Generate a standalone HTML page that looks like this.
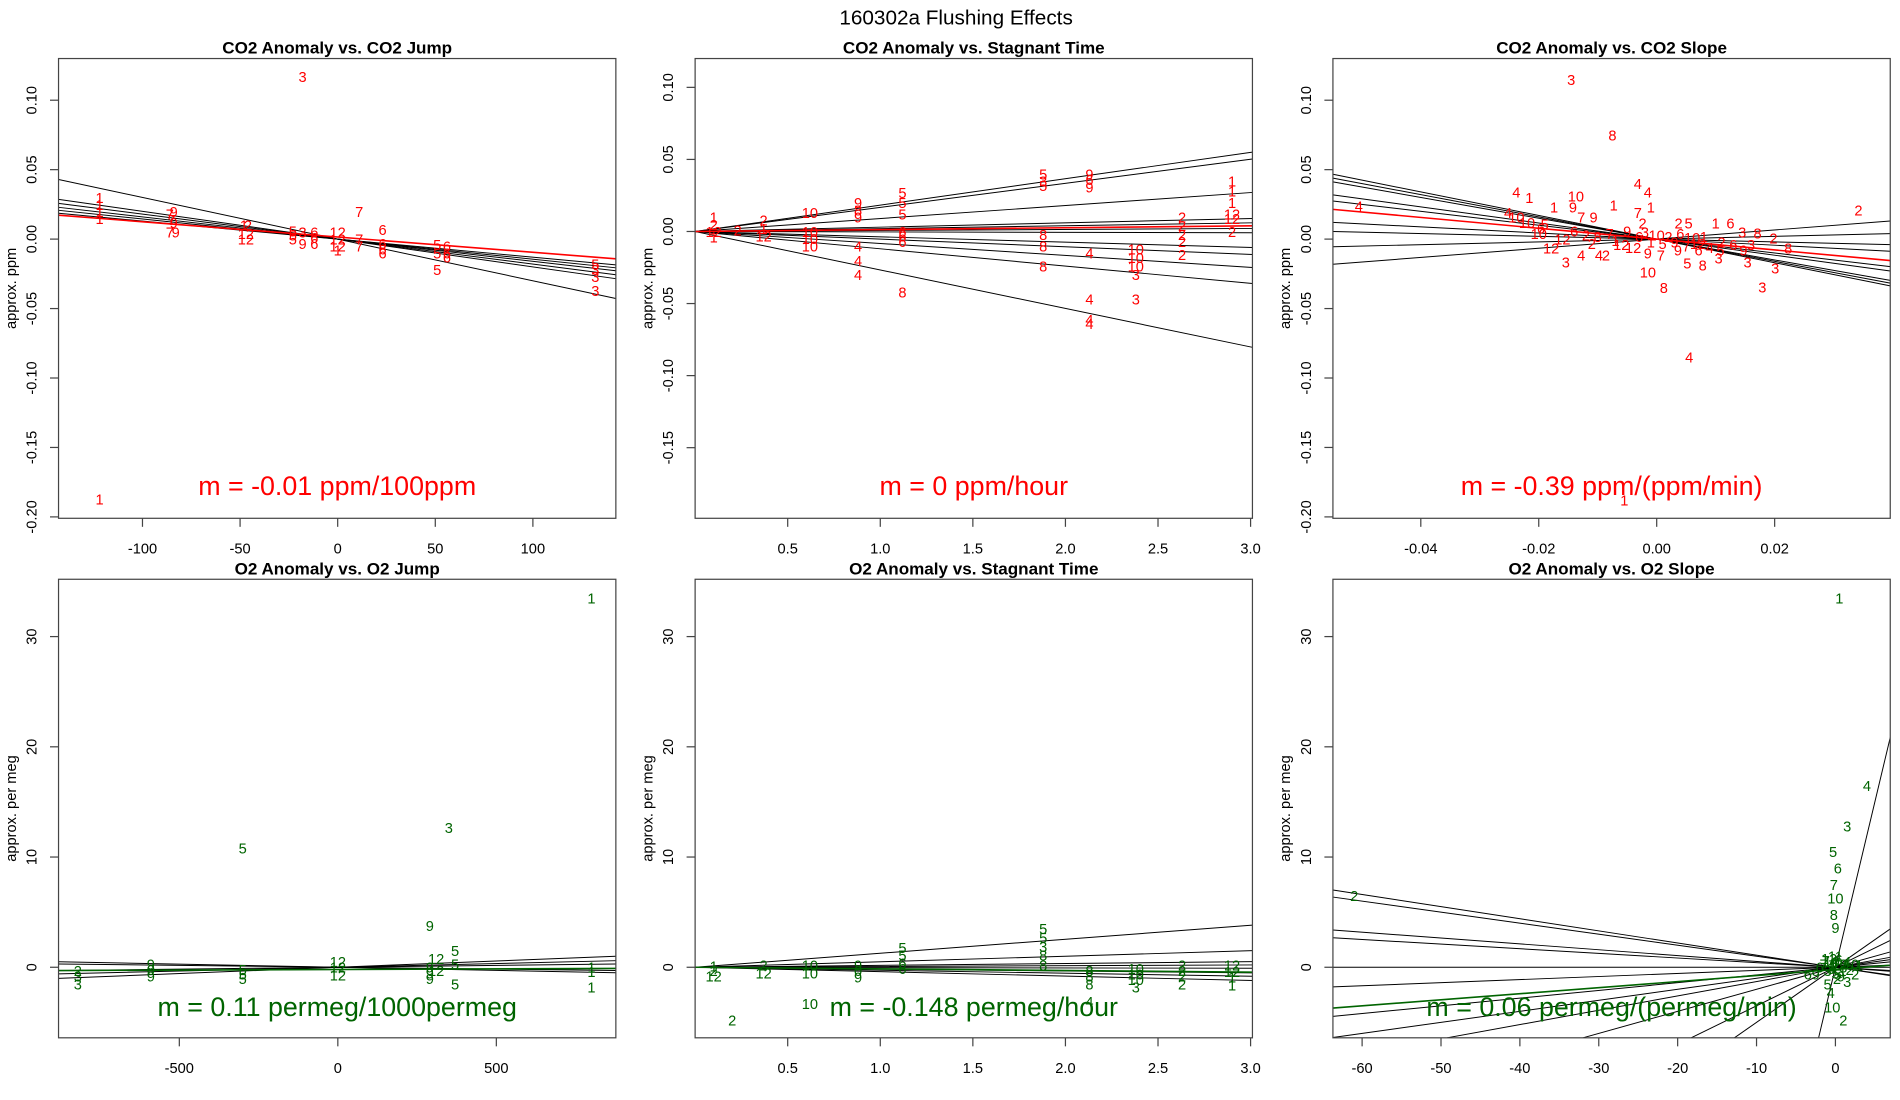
<!DOCTYPE html>
<html><head><meta charset="utf-8"><title>160302a Flushing Effects</title>
<style>html,body{margin:0;padding:0;background:#fff;width:1900px;height:1100px;overflow:hidden;}svg{display:block;font-family:"Liberation Sans",Arial,sans-serif;}</style>
</head><body>
<svg id="fig" width="1900" height="1100" viewBox="0 0 1558 902" xmlns="http://www.w3.org/2000/svg">
<text x="784" y="20" text-anchor="middle" font-size="17">160302a   Flushing Effects</text>
</svg>
<script>
// ---- Panel 1: CO2 Anomaly vs CO2 Jump ----
const p1Slopes=[-0.0003,-0.0002,-0.00018,-0.00016,-0.000145,-0.00013];
const p1FitSlope=-0.00011, p1FitIntercept=0.0015;
const p1X=[-122,-122,-122,-122,-122,-86,-84,-85,-84,-86,-83,-48,-46,-47,-47,-23,-23,-23,-18,-18,-12,-12,-12,0,0,0,0,11,11,11,23,23,23,23,51,51,51,56,56,56,132,132,132,132,-18];
const p1Y=[0.03,0.025,0.02,0.015,-0.187,0.018,0.02,0.014,0.012,0.005,0.005,0.01,0.01,0.004,0,0.006,0.003,0,0.005,-0.003,0.005,0.001,-0.003,0.005,0,-0.005,-0.008,0.02,0,-0.005,0.007,-0.003,-0.007,-0.01,-0.004,-0.01,-0.022,-0.005,-0.01,-0.013,-0.018,-0.022,-0.027,-0.037,0.117];
const p1Lab=['1','1','1','1','1','7','9','7','9','7','9','1','2','12','12','5','5','5','3','9','6','6','6','12','12','12','1','7','7','7','6','6','6','6','5','5','5','6','6','6','5','3','3','3','3'];
const p1XTicks=[-100,-50,0,50,100], p1YTicks=[-0.20,-0.15,-0.10,-0.05,0.00,0.05,0.10];
const p1YTickLabels=['-0.20','-0.15','-0.10','-0.05','0.00','0.05','0.10'];
// ---- Panel 2: CO2 vs Stagnant Time ----
const p2Slopes=[0.0183,0.0167,0.009,0.003,0.002,0.0007,-0.0003,-0.0037,-0.0053,-0.0083,-0.012,-0.0267];
const p2FitSlope=0.0013, p2FitIntercept=0;
const p2X=[0.1,0.1,0.1,0.1,0.23,0.37,0.37,0.37,0.62,0.62,0.62,0.62,0.88,0.88,0.88,0.88,0.88,0.88,1.12,1.12,1.12,1.12,1.12,1.12,1.12,1.88,1.88,1.88,1.88,1.88,1.88,2.13,2.13,2.13,2.13,2.13,2.13,2.13,2.38,2.38,2.38,2.38,2.38,2.63,2.63,2.63,2.63,2.63,2.9,2.9,2.9,2.9,2.9,2.9];
const p2Y=[0.01,0.005,0,-0.004,0.001,0.008,0.002,-0.003,0.013,0,-0.005,-0.01,0.02,0.015,0.01,-0.01,-0.02,-0.03,0.027,0.02,0.012,0,-0.003,-0.007,-0.042,0.04,0.035,0.032,-0.002,-0.01,-0.024,0.04,0.036,0.031,-0.015,-0.047,-0.061,-0.064,-0.012,-0.018,-0.024,-0.03,-0.047,0.01,0.004,-0.002,-0.007,-0.016,0.035,0.028,0.02,0.012,0.009,0];
const p2Lab=['1','2','12','1','2','2','1','12','10','10','10','10','9','8','9','4','4','4','5','5','5','6','6','6','8','5','3','5','8','8','8','9','6','9','4','4','4','4','10','10','10','3','3','2','2','2','2','2','1','1','1','12','12','2'];
const p2XTicks=[0.5,1.0,1.5,2.0,2.5,3.0], p2XTickLabels=['0.5','1.0','1.5','2.0','2.5','3.0'];
const p2YTicks=[-0.15,-0.10,-0.05,0.00,0.05,0.10], p2YTickLabels=['-0.15','-0.10','-0.05','0.00','0.05','0.10'];
// ---- Panel 3: CO2 vs CO2 Slope ----
const p3Slopes=[-0.85,-0.8,-0.75,-0.58,-0.5,-0.22,-0.1,0.1,0.33];
const p3FitSlope=-0.39, p3FitIntercept=0;
const p3X=[-0.0238,-0.0216,-0.0137,-0.0032,-0.0015,-0.001,-0.0073,-0.0142,-0.0174,-0.0128,-0.0107,-0.0032,-0.0238,-0.0252,-0.0196,0.0125,0.0342,0.0198,0.0223,-0.0179,-0.0154,-0.0128,-0.0098,-0.0086,-0.0015,0.0012,0.0052,0.0078,0.0105,0.0154,0.0201,0.0179,-0.0015,0.0007,0.0036,0.0071,0.0108,0.0147,0.0145,0.0171,0.01,0.0037,0.0054,-0.0024,-0.02,-0.016,-0.014,-0.012,-0.011,-0.01,-0.008,-0.007,-0.006,-0.005,-0.004,-0.003,-0.002,-0.001,0,0.001,0.002,0.003,0.004,0.005,0.006,0.007,0.008,0.009,0.011,0.013,0.016,-0.022,-0.019,-0.0145,-0.0075,0.0055,-0.0055,-0.0505];
const p3Y=[0.0338,0.03,0.031,0.04,0.034,0.023,0.0245,0.023,0.023,0.016,0.016,0.019,0.016,0.019,0.008,0.0115,0.021,0.0007,-0.0065,-0.0065,-0.0165,-0.0115,-0.0115,-0.0115,-0.0237,-0.035,-0.0173,-0.0187,-0.0137,-0.0165,-0.0209,-0.0345,-0.0101,-0.0115,-0.0079,-0.0079,-0.0079,-0.0079,0.005,0.0043,0.0115,0.0115,0.0115,0.0115,0.004,0,0.006,0.003,-0.003,0.002,0.004,-0.001,-0.004,0.006,-0.006,0.002,0.005,-0.002,0.003,-0.003,0.002,-0.002,0.004,-0.005,0.001,-0.003,0.002,-0.006,-0.002,-0.004,-0.004,0.012,0.011,0.115,0.075,-0.085,-0.188,0.024];
const p3Lab=['4','1','10','4','4','1','1','9','1','7','9','7','10','4','6','6','2','2','8','12','3','4','4','2','10','8','5','8','3','3','3','3','9','7','9','6','5','9','3','8','1','2','5','2','10','12','6','2','2','8','7','1','12','9','12','6','3','1','10','5','2','9','6','7','10','12','1','4','2','6','3','10','5','3','8','4','1','4'];
const p3XTicks=[-0.04,-0.02,0.00,0.02], p3XTickLabels=['-0.04','-0.02','0.00','0.02'];
// ---- Panel 4: O2 vs O2 Jump ----
const p4Slopes=[0.00114,0.00068,0.00034,-0.00034,-0.00057];
const p4FitSlope=0.00011, p4FitIntercept=-0.2;
const p4X=[-820,-820,-820,-590,-590,-590,-300,-300,-300,-300,0,0,0,290,290,290,290,310,310,350,370,370,370,800,800,800,800];
const p4Y=[-0.3,-0.8,-1.5,0.3,-0.2,-0.8,10.8,-0.2,-0.6,-1,0.5,0,-0.7,3.8,0,-0.5,-1,0.8,-0.3,12.7,1.5,0.3,-1.5,33.5,0,-0.4,-1.8];
const p4Lab=['2','3','3','9','0','9','5','5','5','5','12','12','12','9','9','9','9','12','12','3','5','5','5','1','1','1','1'];
const p4XTicks=[-500,0,500], p4YTicks=[0,10,20,30];
// ---- Panel 5: O2 vs Stagnant Time ----
const p5Slopes=[1.27,0.5,0.17,0.07,-0.03,-0.17,-0.27,-0.4];
const p5FitSlope=-0.148, p5FitIntercept=0;
const p5X=[0.1,0.1,0.1,0.2,0.37,0.37,0.62,0.62,0.62,0.88,0.88,0.88,1.12,1.12,1.12,1.12,1.88,1.88,1.88,1.88,1.88,2.13,2.13,2.13,2.13,2.38,2.38,2.38,2.38,2.63,2.63,2.63,2.63,2.9,2.9,2.9,2.9];
const p5Y=[0.1,-0.3,-0.8,-4.8,0.2,-0.5,-3.3,0.2,-0.5,0.2,-0.3,-0.9,1.8,1.1,0.4,-0.1,3.5,2.7,1.9,1.1,0.2,-0.3,-0.8,-1.5,-3.1,-0.1,-0.6,-1.1,-1.8,0.2,-0.3,-0.8,-1.5,0.2,-0.4,-0.9,-1.6];
const p5Lab=['1','2','12','2','2','12','10','10','10','9','0','9','5','5','6','6','5','5','3','8','8','8','8','8','4','10','10','10','3','2','2','2','2','12','12','1','1'];
// ---- Panel 6: O2 vs O2 Slope ----
const p6Slopes=[-0.11,-0.1,-0.053,-0.042,0,0.028,0.07,0.1,0.13,0.2,0.35,0.5,3.0];
const p6FitSlope=0.055, p6FitIntercept=-0.2;
const p6X=[0.5,4,1.5,-0.3,0.3,-0.2,0,-0.2,0,-61,1,-0.4,-0.6,-1,-3.5,-2.5,1.5,2.5,0,-1.5,-0.5,0.5,1,-1,0,0.7,-0.3,2,3,1.5,-2,0.2,-0.8,0.4,-0.6,0.9,-1.2,0.3,1.8,-0.2];
const p6Y=[33.5,16.5,12.8,10.5,9,7.5,6.3,4.8,3.6,6.5,-4.8,-3.6,-2.3,-1.5,-0.6,-0.6,-1.3,-0.6,1,0.3,0.5,0.3,0,-0.3,-0.5,-0.8,0.1,0.3,0.2,0.5,0,-1,0.8,0.7,-0.1,-0.3,0.6,-0.6,-0.2,0.4];
const p6Lab=['1','4','3','5','6','7','10','8','9','2','2','10','4','5','6','9','3','2','11','7','10','12','8','3','5','9','1','10','1','4','6','2','12','6','3','1','7','5','2','8'];
const p6XTicks=[-60,-50,-40,-30,-20,-10,0];

const RED='#ff0000', GREEN='#006400';
const NS='http://www.w3.org/2000/svg';
const svg=document.getElementById('fig');
function mk(tag,attrs,parent){const e=document.createElementNS(NS,tag);for(const k in attrs)e.setAttribute(k,attrs[k]);(parent||svg).appendChild(e);return e;}

// clip line y = s*x + b to the data rectangle
function clipLine(s,b,xd,yd){
  let x0=xd[0],x1=xd[1];
  if(s!==0){
    const xa=(yd[0]-b)/s, xb=(yd[1]-b)/s;
    const lo=Math.min(xa,xb), hi=Math.max(xa,xb);
    x0=Math.max(x0,lo); x1=Math.min(x1,hi);
  }
  if(x0>x1) return null;
  return [x0,s*x0+b,x1,s*x1+b];
}

let clipId=0;
function panel(o){
  const g=mk('g',{});
  
  
  const L=o.box[0],T=o.box[1],R=o.box[2],B=o.box[3];
  const sx=v=>L+(v-o.xd[0])/(o.xd[1]-o.xd[0])*(R-L);
  const sy=v=>B-(v-o.yd[0])/(o.yd[1]-o.yd[0])*(B-T);
  const cid='clip'+(clipId++);
  const cp=mk('clipPath',{id:cid},g);mk('rect',{x:L,y:T,width:R-L,height:B-T},cp);
  const t=mk('text',{x:(L+R)/2,y:T-4,'text-anchor':'middle','font-size':14,'font-weight':'bold'},g);
  
  
  t.textContent=o.title;
  const cg=mk('g',{'clip-path':'url(#'+cid+')'},g);
  o.slopes.forEach(s=>{
    const c=clipLine(s,0,o.xd,o.yd); if(!c) return;
    const ln=mk('line',{x1:sx(c[0]),y1:sy(c[1]),x2:sx(c[2]),y2:sy(c[3]),stroke:'#000','stroke-width':0.8},cg);
    
    
  });
  const fc=clipLine(o.fs,o.fi,o.xd,o.yd);
  const fl=mk('line',{x1:sx(fc[0]),y1:sy(fc[1]),x2:sx(fc[2]),y2:sy(fc[3]),stroke:o.col,'stroke-width':1.3},cg);
  
  
  o.px.forEach((x,i)=>{
    const p=mk('text',{x:sx(x),y:sy(o.py[i])+4.5,'text-anchor':'middle','font-size':12,fill:o.col},cg);
    
    
    p.textContent=o.pl[i];
  });
  const bx=mk('rect',{x:L,y:T,width:R-L,height:B-T,fill:'none',stroke:'#444','stroke-width':1},g);
  
  
  o.xt.forEach((v,i)=>{
    mk('line',{x1:sx(v),y1:B,x2:sx(v),y2:B+7,stroke:'#444'},g);
    const tl=mk('text',{x:sx(v),y:B+29,'text-anchor':'middle','font-size':12},g);
    
    
    tl.textContent=o.xtl?o.xtl[i]:String(v);
  });
  o.yt.forEach((v,i)=>{
    mk('line',{x1:L,y1:sy(v),x2:L-7,y2:sy(v),stroke:'#444'},g);
    const tl=mk('text',{x:0,y:0,'text-anchor':'middle','font-size':12,transform:'translate('+(L-18)+','+sy(v)+') rotate(-90)'},g);
    
    
    tl.textContent=o.ytl?o.ytl[i]:String(v);
  });
  const yl=mk('text',{x:0,y:0,'text-anchor':'middle','font-size':12,transform:'translate('+(L-35)+','+((T+B)/2)+') rotate(-90)'},g);
  
  
  yl.textContent=o.ylab;
  const m=mk('text',{x:(L+R)/2,y:o.my,'text-anchor':'middle','font-size':22,fill:o.col},g);
  
  
  m.textContent=o.mtext;
}
panel({name:'co2-vs-co2-jump-panel',title:'CO2 Anomaly vs. CO2 Jump',box:[48,48,505,425],xd:[-143,142.5],yd:[-0.201,0.13],slopes:p1Slopes,fs:p1FitSlope,fi:p1FitIntercept,px:p1X,py:p1Y,pl:p1Lab,col:RED,xt:p1XTicks,yt:p1YTicks,ytl:p1YTickLabels,ylab:'approx. ppm',mtext:'m = -0.01 ppm/100ppm',my:406});
panel({name:'co2-vs-stagnant-time-panel',title:'CO2 Anomaly vs. Stagnant Time',box:[570,48,1027,425],xd:[0,3.01],yd:[-0.199,0.12],slopes:p2Slopes,fs:p2FitSlope,fi:p2FitIntercept,px:p2X,py:p2Y,pl:p2Lab,col:RED,xt:p2XTicks,xtl:p2XTickLabels,yt:p2YTicks,ytl:p2YTickLabels,ylab:'approx. ppm',mtext:'m = 0 ppm/hour',my:406});
panel({name:'co2-vs-co2-slope-panel',title:'CO2 Anomaly vs. CO2 Slope',box:[1093,48,1550,425],xd:[-0.0549,0.0396],yd:[-0.201,0.13],slopes:p3Slopes,fs:p3FitSlope,fi:p3FitIntercept,px:p3X,py:p3Y,pl:p3Lab,col:RED,xt:p3XTicks,xtl:p3XTickLabels,yt:p1YTicks,ytl:p1YTickLabels,ylab:'approx. ppm',mtext:'m = -0.39 ppm/(ppm/min)',my:406});
panel({name:'o2-vs-o2-jump-panel',title:'O2 Anomaly vs. O2 Jump',box:[48,475,505,851],xd:[-881,877],yd:[-6.4,35.2],slopes:p4Slopes,fs:p4FitSlope,fi:p4FitIntercept,px:p4X,py:p4Y,pl:p4Lab,col:GREEN,xt:p4XTicks,yt:p4YTicks,ylab:'approx. per meg',mtext:'m = 0.11 permeg/1000permeg',my:833});
panel({name:'o2-vs-stagnant-time-panel',title:'O2 Anomaly vs. Stagnant Time',box:[570,475,1027,851],xd:[0,3.01],yd:[-6.4,35.2],slopes:p5Slopes,fs:p5FitSlope,fi:p5FitIntercept,px:p5X,py:p5Y,pl:p5Lab,col:GREEN,xt:p2XTicks,xtl:p2XTickLabels,yt:p4YTicks,ylab:'approx. per meg',mtext:'m = -0.148 permeg/hour',my:833});
panel({name:'o2-vs-o2-slope-panel',title:'O2 Anomaly vs. O2 Slope',box:[1093,475,1550,851],xd:[-63.7,6.95],yd:[-6.4,35.2],slopes:p6Slopes,fs:p6FitSlope,fi:p6FitIntercept,px:p6X,py:p6Y,pl:p6Lab,col:GREEN,xt:p6XTicks,yt:p4YTicks,ylab:'approx. per meg',mtext:'m = 0.06 permeg/(permeg/min)',my:833});
</script>
</body></html>
